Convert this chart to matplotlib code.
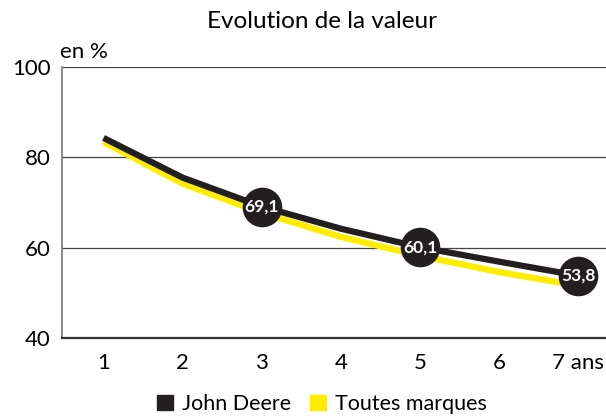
import matplotlib
matplotlib.use("Agg")
import matplotlib.pyplot as plt
from matplotlib.patches import Patch

plt.rcParams['font.family'] = ['Lato', 'DejaVu Sans']

years = [1, 2, 3, 4, 5, 6, 7]
xlabels = ["1", "2", "3", "4", "5", "6", "7 ans"]
john_deere = [84.3, 75.5, 69.1, 64.2, 60.1, 56.9, 53.8]
toutes_marques = [83.4, 74.2, 67.7, 62.4, 58.2, 54.6, 51.6]
labeled_idx = [2, 4, 6]
labels = ["69,1", "60,1", "53,8"]

fig = plt.figure(figsize=(6.06, 4.16), dpi=100)
ax = fig.add_axes([62/606, 1-338/416, 1-62/606, (338-67)/416])

ax.set_xlim(0.475, 7.35)
ax.set_ylim(40, 100)

for y in [60, 80, 100]:
    ax.axhline(y, color='#444444', lw=0.9, zorder=1)

ax.plot(years, toutes_marques, color='#ffec00', lw=4.5, solid_capstyle='butt', zorder=2)
ax.plot(years, john_deere, color='#231f20', lw=4.5, solid_capstyle='butt', zorder=3)

for i, t in zip(labeled_idx, labels):
    ax.plot(years[i], john_deere[i], 'o', ms=27.5, color='#231f20', zorder=4)
    ax.text(years[i], john_deere[i], t, color='white', fontsize=12.5, fontweight='bold',
            ha='center', va='center', zorder=5)

for s in ['top', 'right']:
    ax.spines[s].set_visible(False)
ax.spines['left'].set_color('#777777')
ax.spines['left'].set_linewidth(1.2)
ax.spines['bottom'].set_color('#333333')
ax.spines['bottom'].set_linewidth(1.6)

ax.set_yticks([40, 60, 80, 100])
ax.set_yticklabels(["40", "60", "80", "100"], fontsize=16)
ax.set_xticks(years)
ax.set_xticklabels(xlabels, fontsize=16)
ax.tick_params(length=0, pad=8)
ax.tick_params(axis='x', pad=11)

fig.text(322/606, 1-22/416, "Evolution de la valeur", ha='center', va='center', fontsize=17.5)
fig.text(60/606, 1-52/416, "en %", ha='left', va='center', fontsize=16)

handles = [Patch(color='#231f20'), Patch(color='#ffec00')]
fig.legend(handles, ["John Deere", "Toutes marques"], loc='center', bbox_to_anchor=(322/606, 1-404/416),
           ncol=2, frameon=False, fontsize=15.5, handlelength=0.75, handleheight=0.75,
           handletextpad=0.4, columnspacing=0.9, borderpad=0)

fig.savefig("out.png", dpi=100)
